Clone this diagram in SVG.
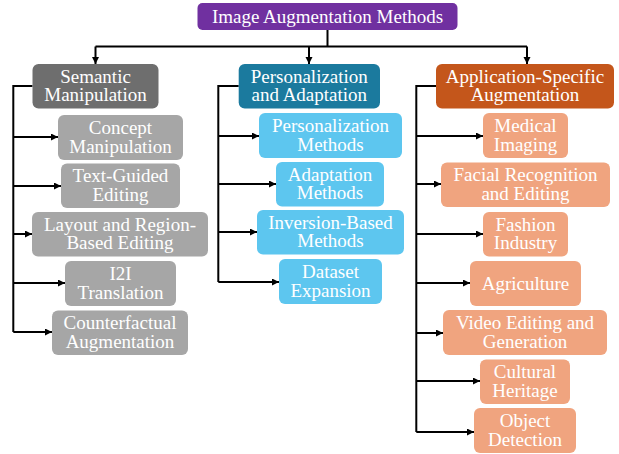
<svg xmlns="http://www.w3.org/2000/svg" width="619" height="454" viewBox="0 0 619 454">
<style>
text{font-family:'Liberation Serif','Times New Roman',Tinos,'DejaVu Serif',serif;font-size:19px;fill:#ffffff;text-anchor:middle}
.ln{fill:none;stroke:#000;stroke-width:2}
.ar{fill:none;stroke:#000;stroke-width:2;marker-end:url(#ah)}
.title{fill:#7030a0}
.c1{fill:#6e6e6e}
.c2{fill:#1b7a9e}
.c3{fill:#c4561b}
.k1{fill:#a6a6a6}
.k2{fill:#5dc6ef}
.k3{fill:#f0a47f}
</style>
<defs>
<marker id="ah" markerUnits="userSpaceOnUse" markerWidth="8" markerHeight="8" refX="7" refY="3.5" orient="auto">
<path d="M0,0 L7,3.5 L0,7 z" fill="#000"/>
</marker>
</defs>
<rect width="619" height="454" fill="#ffffff"/>

<g id="connectors">
<path class="ln" d="M327.5,30 V46.5 M95.5,46.5 H527"/>
<path class="ar" d="M95.5,46.5 V64"/>
<path class="ar" d="M309,46.5 V64"/>
<path class="ar" d="M527,46.5 V64"/>
<path class="ln" d="M32.5,86 H13.3 V332"/>
<path class="ar" d="M13.3,137 H58"/>
<path class="ar" d="M13.3,186 H61"/>
<path class="ar" d="M13.3,234 H32"/>
<path class="ar" d="M13.3,283 H65"/>
<path class="ar" d="M13.3,332 H52"/>
<path class="ln" d="M238.7,86 H218.3 V282"/>
<path class="ar" d="M218.3,136 H259"/>
<path class="ar" d="M218.3,184 H276"/>
<path class="ar" d="M218.3,232 H257"/>
<path class="ar" d="M218.3,282 H279"/>
<path class="ln" d="M436,86 H416.3 V432"/>
<path class="ar" d="M416.3,136 H483"/>
<path class="ar" d="M416.3,184 H441"/>
<path class="ar" d="M416.3,234 H483"/>
<path class="ar" d="M416.3,283 H470"/>
<path class="ar" d="M416.3,333 H443"/>
<path class="ar" d="M416.3,381 H480"/>
<path class="ar" d="M416.3,432 H474"/>
</g>

<g id="root">
<rect class="title" x="197.5" y="3" width="260" height="27" rx="5"/>
<text x="327.5" y="22.5">Image Augmentation Methods</text>
</g>

<g id="semantic">
<rect class="c1" x="32.5" y="64" width="126" height="44.5" rx="6"/>
<text x="95.5" y="82.5">Semantic<tspan x="95.5" y="101.2">Manipulation</tspan></text>
</g>
<g id="personalization">
<rect class="c2" x="238.7" y="64" width="141.3" height="44.5" rx="6"/>
<text x="309.3" y="82.5">Personalization<tspan x="309.3" y="101.2">and Adaptation</tspan></text>
</g>
<g id="application">
<rect class="c3" x="436" y="64" width="178" height="44.5" rx="6"/>
<text x="525" y="82.5">Application-Specific<tspan x="525" y="101.2">Augmentation</tspan></text>
</g>

<g id="concept">
<rect class="k1" x="58" y="115" width="125" height="45" rx="6"/>
<text x="120.5" y="134">Concept<tspan x="120.5" y="152.7">Manipulation</tspan></text>
</g>
<g id="textguided">
<rect class="k1" x="61" y="163.5" width="119" height="44.5" rx="6"/>
<text x="120.5" y="182.2">Text-Guided<tspan x="120.5" y="200.9">Editing</tspan></text>
</g>
<g id="layout">
<rect class="k1" x="32" y="212" width="176" height="44.5" rx="6"/>
<text x="120" y="230.7">Layout and Region-<tspan x="120" y="249.4">Based Editing</tspan></text>
</g>
<g id="i2i">
<rect class="k1" x="65" y="261" width="111" height="45" rx="6"/>
<text x="120.5" y="280">I2I<tspan x="120.5" y="298.7">Translation</tspan></text>
</g>
<g id="counterfactual">
<rect class="k1" x="52" y="310.5" width="136" height="44.5" rx="6"/>
<text x="120" y="329.2">Counterfactual<tspan x="120" y="347.9">Augmentation</tspan></text>
</g>

<g id="persmethods">
<rect class="k2" x="259" y="113" width="143" height="45" rx="6"/>
<text x="330.5" y="132">Personalization<tspan x="330.5" y="150.7">Methods</tspan></text>
</g>
<g id="adaptation">
<rect class="k2" x="276" y="162" width="108" height="44.5" rx="6"/>
<text x="330" y="180.7">Adaptation<tspan x="330" y="199.4">Methods</tspan></text>
</g>
<g id="inversion">
<rect class="k2" x="257" y="210" width="147" height="44.5" rx="6"/>
<text x="330.5" y="228.7">Inversion-Based<tspan x="330.5" y="247.4">Methods</tspan></text>
</g>
<g id="dataset">
<rect class="k2" x="279" y="259" width="103" height="45" rx="6"/>
<text x="330.5" y="278">Dataset<tspan x="330.5" y="296.7">Expansion</tspan></text>
</g>

<g id="medical">
<rect class="k3" x="483" y="113" width="85" height="45" rx="6"/>
<text x="525.5" y="132">Medical<tspan x="525.5" y="150.7">Imaging</tspan></text>
</g>
<g id="facial">
<rect class="k3" x="441" y="162.5" width="169" height="44.5" rx="6"/>
<text x="525.5" y="181.2">Facial Recognition<tspan x="525.5" y="199.9">and Editing</tspan></text>
</g>
<g id="fashion">
<rect class="k3" x="483" y="212" width="85" height="44.5" rx="6"/>
<text x="525.5" y="230.7">Fashion<tspan x="525.5" y="249.4">Industry</tspan></text>
</g>
<g id="agriculture">
<rect class="k3" x="470" y="261" width="111" height="45" rx="6"/>
<text x="525.5" y="290">Agriculture</text>
</g>
<g id="video">
<rect class="k3" x="443" y="310" width="164" height="45" rx="6"/>
<text x="525" y="329">Video Editing and<tspan x="525" y="347.7">Generation</tspan></text>
</g>
<g id="cultural">
<rect class="k3" x="480" y="359.5" width="90" height="44.5" rx="6"/>
<text x="525" y="378.2">Cultural<tspan x="525" y="396.9">Heritage</tspan></text>
</g>
<g id="object">
<rect class="k3" x="474" y="408" width="102" height="45" rx="6"/>
<text x="525" y="427">Object<tspan x="525" y="445.7">Detection</tspan></text>
</g>
</svg>
